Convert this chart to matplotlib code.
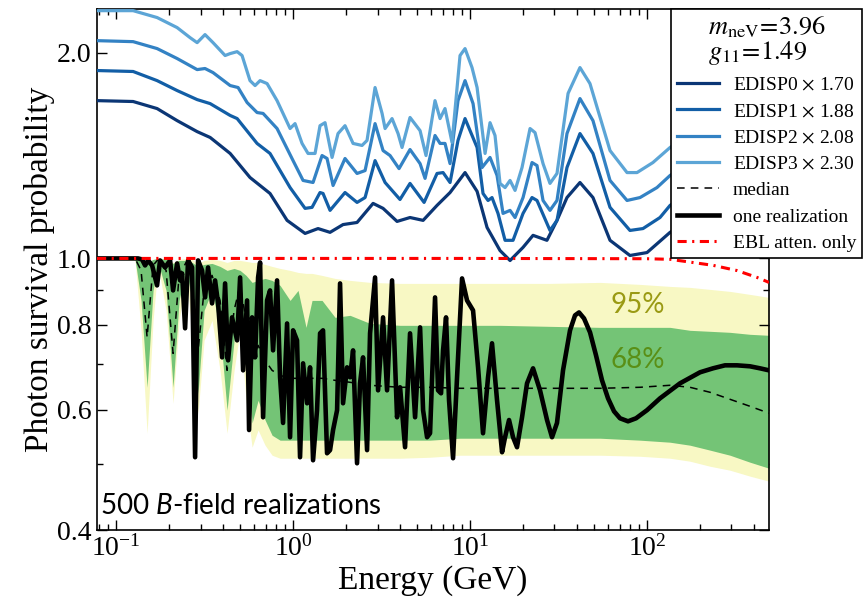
import numpy as np
import matplotlib.pyplot as plt
from matplotlib.ticker import FixedLocator, FixedFormatter, LogLocator, NullFormatter

plt.rcParams['font.family'] = 'serif'
plt.rcParams['font.serif'] = ['Liberation Serif', 'DejaVu Serif']
plt.rcParams['mathtext.fontset'] = 'stix'
# the "custom" math set is only used by the sans annotation
plt.rcParams['mathtext.rm'] = 'Lato'
plt.rcParams['mathtext.it'] = 'Lato:italic'

# --- upper panel: rescaled smoothed survival probability per EDISP class
e_edisp0 = [0.078, 0.1248, 0.1705, 0.2212, 0.287, 0.340, 0.441, 0.571, 0.741, 0.925,
            1.169, 1.384, 1.618, 1.916, 2.299, 2.832, 3.225, 3.869, 4.58, 5.43,
            6.51, 7.71, 9.37, 10.96, 12.48, 14.77, 16.83, 19.93, 22.7, 27.2,
            31.0, 35.3, 41.8, 49.5, 61.8, 80.1, 100, 135, 199, 489]
p_edisp0 = [1.703, 1.698, 1.658, 1.592, 1.534, 1.504, 1.425, 1.314, 1.245, 1.137,
            1.088, 1.106, 1.092, 1.121, 1.129, 1.204, 1.184, 1.133, 1.148, 1.137,
            1.196, 1.249, 1.336, 1.254, 1.110, 1.027, 0.993, 1.038, 1.081, 1.063,
            1.137, 1.228, 1.292, 1.228, 1.063, 1.010, 1.020, 1.092, 1.156, 1.258]

e_edisp1 = [0.078, 0.1248, 0.1705, 0.2212, 0.287, 0.340, 0.441, 0.483, 0.626, 0.741,
            0.962, 1.169, 1.280, 1.42, 1.477, 1.618, 1.966, 2.299, 2.552, 2.906,
            3.311, 4.02, 4.58, 5.50, 6.51, 7.04, 7.71, 8.55, 9.37, 10.96,
            11.84, 12.64, 13.31, 14.39, 15.77, 17.50, 19.93, 22.4, 23.9, 28.3,
            31.0, 35.3, 41.8, 49.5, 61.8, 80.1, 94.9, 118.4, 135, 199, 489]
p_edisp1 = [1.885, 1.879, 1.822, 1.762, 1.709, 1.686, 1.620, 1.603, 1.474, 1.425,
            1.270, 1.184, 1.188, 1.249, 1.245, 1.176, 1.249, 1.208, 1.228, 1.391,
            1.292, 1.220, 1.288, 1.208, 1.332, 1.336, 1.292, 1.489, 1.603, 1.454,
            1.245, 1.216, 1.228, 1.164, 1.063, 1.063, 1.164, 1.228, 1.216, 1.099,
            1.137, 1.359, 1.524, 1.425, 1.188, 1.099, 1.106, 1.148, 1.196, 1.279, 1.391]

e_edisp2 = [0.078, 0.1248, 0.1705, 0.2212, 0.287, 0.318, 0.353, 0.441, 0.489, 0.550,
            0.626, 0.677, 0.812, 1.0, 1.139, 1.297, 1.458, 1.556, 1.683, 1.966,
            2.299, 2.552, 2.906, 3.225, 3.532, 3.97, 4.58, 5.22, 5.57, 6.34,
            6.77, 7.22, 7.71, 8.55, 9.37, 10.40, 11.69, 12.97, 14.21, 15.36,
            16.83, 17.96, 19.93, 22.4, 23.9, 25.85, 28.3, 31.0, 35.3, 41.8,
            49.5, 61.8, 77.1, 91.3, 113.8, 135, 199, 489]
p_edisp2 = [2.085, 2.078, 2.030, 1.963, 1.891, 1.898, 1.872, 1.792, 1.780, 1.692,
            1.636, 1.631, 1.550, 1.391, 1.301, 1.292, 1.415, 1.401, 1.279, 1.401,
            1.332, 1.345, 1.576, 1.439, 1.415, 1.354, 1.444, 1.377, 1.310, 1.514,
            1.474, 1.474, 1.377, 1.703, 1.822, 1.686, 1.359, 1.406, 1.323, 1.164,
            1.176, 1.148, 1.228, 1.382, 1.368, 1.216, 1.176, 1.216, 1.524, 1.715,
            1.592, 1.301, 1.216, 1.228, 1.270, 1.323, 1.415, 1.550]

e_edisp3 = [0.078, 0.1248, 0.1705, 0.2212, 0.262, 0.287, 0.318, 0.353, 0.413, 0.441,
            0.483, 0.515, 0.571, 0.610, 0.651, 0.713, 0.812, 0.962, 1.026, 1.124,
            1.215, 1.331, 1.42, 1.516, 1.661, 1.795, 1.966, 2.183, 2.453, 2.618,
            2.906, 3.184, 3.311, 3.625, 3.920, 4.128, 4.58, 5.22, 5.64, 6.34,
            6.77, 7.22, 7.91, 8.78, 9.37, 10.26, 10.96, 12.16, 12.97, 13.84,
            14.77, 15.77, 16.83, 17.96, 19.67, 21.83, 23.29, 25.85, 28.3, 31.0,
            35.8, 41.8, 47.6, 61.8, 77.1, 87.8, 108, 135, 199, 489]
p_edisp3 = [2.307, 2.307, 2.254, 2.179, 2.106, 2.071, 2.128, 2.071, 1.983, 1.996,
            2.009, 1.983, 1.822, 1.792, 1.822, 1.804, 1.703, 1.550, 1.576, 1.474,
            1.425, 1.425, 1.565, 1.581, 1.406, 1.524, 1.565, 1.474, 1.464, 1.489,
            1.780, 1.631, 1.550, 1.603, 1.524, 1.454, 1.609, 1.539, 1.415, 1.703,
            1.603, 1.658, 1.479, 1.983, 2.030, 1.904, 1.780, 1.425, 1.581, 1.514,
            1.288, 1.270, 1.301, 1.258, 1.359, 1.550, 1.529, 1.377, 1.288, 1.332,
            1.745, 1.904, 1.804, 1.439, 1.336, 1.336, 1.382, 1.454, 1.555, 1.703]

edisp_labels = [r'EDISP0 $\times$ 1.70', r'EDISP1 $\times$ 1.88',
                r'EDISP2 $\times$ 2.08', r'EDISP3 $\times$ 2.30']
edisp_colors = ['#0b3675', '#125ea6', '#3382c4', '#5ca5d6']

# --- lower panel: 500 B-field realizations
e_band = [0.0781, 0.128, 0.1384, 0.1497, 0.1618, 0.1727, 0.1916, 0.2099, 0.2270, 0.2486,
          0.2688, 0.2906, 0.3142, 0.3485, 0.3868, 0.4238, 0.4642, 0.5020, 0.5427, 0.5868,
          0.6344, 0.6948, 0.7610, 0.8444, 0.9617, 1.067, 1.184, 1.280, 1.458, 1.727,
          2.099, 2.723, 4.024, 5.943, 8.782, 14.77, 28.31, 54.27, 91.3, 134.9,
          174.9, 227, 294.4, 381.9, 489]
band95_hi = [1.0, 1.0, 0.9966, 0.9866, 0.9966, 1.0, 1.0, 0.9866, 0.9966, 1.0,
             0.9966, 0.9833, 0.9933, 0.9966, 0.9933, 0.9866, 0.9933, 0.9933, 0.9900, 0.9866,
             0.9866, 0.9800, 0.9734, 0.9668, 0.9604, 0.9539, 0.9507, 0.9507, 0.9443, 0.9348,
             0.9286, 0.9223, 0.9192, 0.9192, 0.9192, 0.9192, 0.9192, 0.9223, 0.9161, 0.9099,
             0.9069, 0.9008, 0.8947, 0.8857, 0.8768]
band68_hi = [1.0, 1.0, 0.9966, 0.9866, 0.9966, 1.0, 0.9966, 0.9833, 0.9933, 0.9933,
             0.9866, 0.9734, 0.9800, 0.9833, 0.9734, 0.9604, 0.9668, 0.9604, 0.9443, 0.9223,
             0.9286, 0.9348, 0.9286, 0.9130, 0.8679, 0.8977, 0.7925, 0.8679, 0.8679, 0.8197,
             0.8253, 0.8032, 0.7979, 0.7979, 0.7979, 0.7979, 0.7952, 0.7925, 0.7925, 0.7925,
             0.7846, 0.7820, 0.7793, 0.7741, 0.7715]
band68_lo = [1.0, 0.9966, 0.8679, 0.6474, 0.8977, 0.9866, 0.8977, 0.6474, 0.8679, 0.9668,
             0.8679, 0.6344, 0.8392, 0.8977, 0.7846, 0.5993, 0.7585, 0.8679, 0.7333, 0.5740,
             0.6196, 0.5797, 0.5507, 0.5416, 0.5416, 0.5416, 0.5416, 0.5416, 0.5416, 0.5416,
             0.5416, 0.5416, 0.5416, 0.5416, 0.5452, 0.5452, 0.5452, 0.5452, 0.5416, 0.5379,
             0.5325, 0.5237, 0.5148, 0.5028, 0.4927]
band95_lo = [1.0, 0.9933, 0.7846, 0.5544, 0.8114, 0.9767, 0.8392, 0.6134, 0.8114, 0.9443,
             0.7846, 0.5932, 0.7585, 0.8114, 0.6855, 0.5544, 0.6855, 0.7846, 0.6196, 0.5289,
             0.5605, 0.5325, 0.5148, 0.5096, 0.5096, 0.5096, 0.5096, 0.5096, 0.5096, 0.5096,
             0.5096, 0.5096, 0.5096, 0.5113, 0.5148, 0.5148, 0.5148, 0.5148, 0.5130, 0.5096,
             0.5045, 0.4960, 0.4894, 0.4797, 0.4716]
median = [1.0, 1.0, 0.9604, 0.7663, 0.9767, 0.9966, 0.9604, 0.7259, 0.9443, 0.9866,
          0.9286, 0.7333, 0.8977, 0.9443, 0.8679, 0.6855, 0.8392, 0.9130, 0.8114, 0.7090,
          0.7458, 0.7090, 0.6855, 0.6740, 0.6673, 0.6673, 0.6673, 0.6673, 0.6673, 0.6628,
          0.6584, 0.6518, 0.6474, 0.6474, 0.6452, 0.6452, 0.6452, 0.6452, 0.6474, 0.6518,
          0.6474, 0.6366, 0.6217, 0.6072, 0.5932]

e_real = [0.0781, 0.1331, 0.1402, 0.1458, 0.1516, 0.1598, 0.1704, 0.1772, 0.1891, 0.2019,
          0.2099, 0.2212, 0.2299, 0.2360, 0.2454, 0.2551, 0.2688, 0.2795, 0.2906, 0.3061,
          0.3183, 0.3309, 0.3485, 0.3625, 0.3769, 0.3971, 0.4129, 0.4293, 0.4521, 0.4827,
          0.5020, 0.5220, 0.5497, 0.5641, 0.5868, 0.6101, 0.6344, 0.6511, 0.6769, 0.7130,
          0.7412, 0.7709, 0.8120, 0.8444, 0.8780, 0.9249, 0.9617, 1.0, 1.053, 1.095,
          1.139, 1.200, 1.247, 1.297, 1.366, 1.421, 1.477, 1.556, 1.618, 1.683,
          1.773, 1.843, 1.916, 2.019, 2.099, 2.183, 2.299, 2.390, 2.486, 2.619,
          2.723, 2.906, 3.022, 3.225, 3.397, 3.625, 3.869, 4.024, 4.293, 4.581,
          4.891, 5.220, 5.428, 5.717, 5.943, 6.343, 6.595, 6.858, 7.039, 7.318,
          7.609, 8.017, 8.445, 9.013, 9.618, 10.40, 11.10, 11.84, 12.64, 13.31,
          14.21, 15.17, 15.77, 16.61, 17.50, 18.43, 19.67, 20.99, 22.70, 24.86,
          27.23, 29.06, 31.00, 33.53, 36.73, 39.20, 41.29, 44.07, 47.64, 51.50,
          55.69, 60.22, 65.11, 70.39, 78.11, 86.69, 100.0, 118.4, 153.6, 199.3,
          236.0, 275.9, 322.5, 381.9, 434.9, 489.0]
p_real = [1.0, 1.0, 0.9966, 0.9767, 0.9933, 0.9767, 0.9130, 0.9933, 0.9701, 0.9933,
          0.8977, 0.9833, 0.9286, 0.9507, 0.7900, 0.9933, 0.9701, 0.5113, 0.9933, 0.9604,
          0.8768, 0.9701, 0.8592, 0.9286, 0.8592, 0.7162, 0.9192, 0.7090, 0.8197, 0.7585,
          0.9379, 0.6855, 0.8679, 0.5605, 0.8197, 0.7162, 0.9379, 0.9866, 0.5851, 0.8679,
          0.8977, 0.7333, 0.9286, 0.6697, 0.5740, 0.8030, 0.5470, 0.7846, 0.7585, 0.5113,
          0.7019, 0.6134, 0.6925, 0.5061, 0.5993, 0.7767, 0.7846, 0.5182, 0.5237, 0.5605,
          0.5993, 0.9192, 0.6134, 0.6925, 0.6697, 0.7333, 0.5010, 0.6561, 0.7162, 0.5237,
          0.7767, 0.9379, 0.6408, 0.8197, 0.6408, 0.9286, 0.5851, 0.6474, 0.5289, 0.7767,
          0.5851, 0.7925, 0.5993, 0.5470, 0.5544, 0.8768, 0.6408, 0.6344, 0.7333, 0.8197,
          0.6196, 0.5096, 0.6697, 0.9348, 0.8679, 0.8392, 0.6925, 0.5544, 0.6697, 0.7510,
          0.6196, 0.5200, 0.5470, 0.5797, 0.5470, 0.5289, 0.5851, 0.6561, 0.6902, 0.6408,
          0.5797, 0.5470, 0.5740, 0.6855, 0.7846, 0.8253, 0.8334, 0.8167, 0.7793, 0.7211,
          0.6628, 0.6237, 0.5970, 0.5831, 0.5772, 0.5831, 0.5993, 0.6237, 0.6561, 0.6810,
          0.6902, 0.6972, 0.6972, 0.6949, 0.6902, 0.6855]

e_ebl = [0.078, 1.0, 10.0, 100.0, 135.0, 236.0, 322.0, 418.0, 476.0, 489.0]
p_ebl = [1.0, 1.0, 1.0, 0.999, 0.997, 0.977, 0.960, 0.938, 0.925, 0.922]

fig = plt.figure(figsize=(8.64, 6.05), dpi=100)
ax = fig.add_axes([97 / 864, 1 - 530 / 605, 672 / 864, 521 / 605])
ax.set_xscale('log')
ax.set_yscale('log')

ax.fill_between(e_band, band95_lo, band95_hi, color='#f8f8c4', lw=0, zorder=1)
ax.fill_between(e_band, band68_lo, band68_hi, color='#74c476', lw=0, zorder=2)

for e, p, lab, col in zip([e_edisp0, e_edisp1, e_edisp2, e_edisp3],
                          [p_edisp0, p_edisp1, p_edisp2, p_edisp3],
                          edisp_labels, edisp_colors):
    ax.plot(e, p, color=col, lw=2.3, label=lab, zorder=4)

ax.plot(e_band, median, color='black', lw=1.1, ls=(0, (5, 4)), label='median', zorder=3)
ax.plot(e_real, p_real, color='black', lw=3.3, label='one realization', zorder=5)
ax.plot(e_ebl, p_ebl, color='red', lw=2.2, ls=(0, (3, 1.8, 0.7, 1.8)),
        label='EBL atten. only', zorder=6)

ax.set_xlim(0.078, 489)
ax.set_ylim(0.4, 2.32)

ax.yaxis.set_major_locator(FixedLocator([0.4, 0.6, 0.8, 1.0, 2.0]))
ax.yaxis.set_major_formatter(FixedFormatter(['0.4', '0.6', '0.8', '1.0', '2.0']))
ax.yaxis.set_minor_locator(FixedLocator([0.5, 0.7, 0.9]))
ax.yaxis.set_minor_formatter(NullFormatter())
ax.xaxis.set_major_locator(LogLocator(base=10, numticks=10))
ax.xaxis.set_minor_locator(LogLocator(base=10, subs=np.arange(2, 10), numticks=30))
ax.xaxis.set_minor_formatter(NullFormatter())
ax.tick_params(which='both', direction='in', top=True, right=True, width=1.0)
ax.tick_params(which='major', length=7, labelsize=20, pad=4)
ax.tick_params(which='minor', length=4.5)
for s in ax.spines.values():
    s.set_linewidth(1.2)

ax.set_xlabel('Energy (GeV)', fontsize=24, labelpad=2)
ax.set_ylabel('Photon survival probability', fontsize=24, labelpad=1)

ax.text(0.005, 0.046, r'500 $B$-field realizations', transform=ax.transAxes,
        fontsize=20, family='Lato', math_fontfamily='custom', va='center', zorder=7)
ax.text(0.804, 0.432, '95%', transform=ax.transAxes, fontsize=20, family='Lato',
        color='#9a9a14', ha='center', va='center', zorder=7)
ax.text(0.804, 0.326, '68%', transform=ax.transAxes, fontsize=20, family='Lato',
        color='#5a8f16', ha='center', va='center', zorder=7)

title = r'$m_{\rm neV}\!=\!3.96$' + '\n' + r'$g_{11}\!=\!1.49$'
leg = ax.legend(loc='upper right', bbox_to_anchor=(862 / 864, 1 - 9 / 605),
                bbox_transform=fig.transFigure, title=title, fontsize=14,
                title_fontsize=19, fancybox=False, framealpha=1, edgecolor='black',
                handlelength=2.15, handletextpad=0.72, labelspacing=0.45,
                borderpad=0.3, borderaxespad=0)
leg.get_title().set_linespacing(0.95)
leg.get_frame().set_linewidth(1.2)
leg.set_zorder(10)

fig.savefig('out.png', dpi=100)
